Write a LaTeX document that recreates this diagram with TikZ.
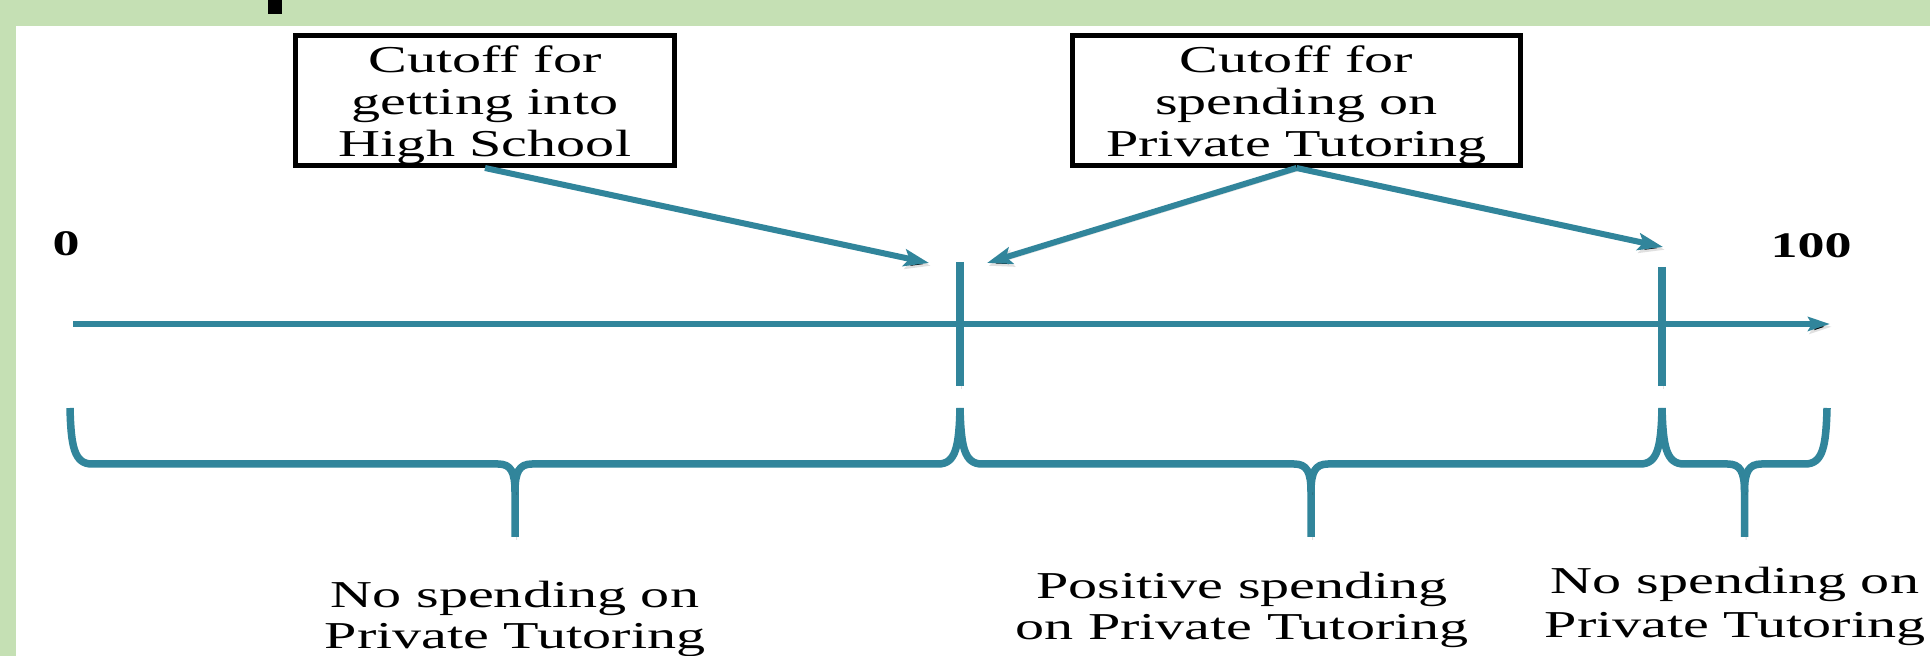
\documentclass[tikz,border=0pt]{standalone}
\usepackage{fontspec}
\setmainfont{Liberation Serif}
\newfontfamily\wideserif[FakeStretch=1.53]{Liberation Serif}
\newfontfamily\numserif[FakeStretch=1.5]{Liberation Serif}
\usetikzlibrary{arrows.meta}
\definecolor{teal1}{RGB}{49,133,155}
\definecolor{framegreen}{RGB}{197,224,180}
\begin{document}
\begin{tikzpicture}[x=0.5pt,y=-0.5pt,
  softshadow/.style={preaction={draw=black, draw opacity=0.12, transform canvas={shift={(0.8pt,-1.4pt)}}}},
  axisline/.style={draw=teal1, line width=3pt, softshadow, -{Stealth[length=11pt,width=7pt,inset=2pt]}},
  arrowline/.style={draw=teal1, line width=3pt, softshadow, -{Stealth[length=12.5pt,width=8.5pt,inset=2.5pt]}},
  tickline/.style={draw=teal1, line width=4.25pt, softshadow},
  braceline/.style={draw=teal1, line width=3.75pt, line join=round, softshadow},
  cutbox/.style={draw=black, line width=2.5pt, fill=white, inner sep=0pt, minimum height=65pt},
  boxtext/.style={font=\wideserif\fontsize{19pt}{21pt}\selectfont, align=center, inner sep=0pt},
  labeltext/.style={font=\wideserif\fontsize{19pt}{21pt}\selectfont, anchor=base, inner sep=0pt},
  numtext/.style={font=\numserif\bfseries\fontsize{18pt}{21pt}\selectfont, inner sep=0pt}
]
\useasboundingbox (0,0) rectangle (1930,656);
% frame
\fill[white] (0,0) rectangle (1930,656);
\fill[framegreen] (0,0) rectangle (1930,26);
\fill[framegreen] (0,0) rectangle (16,656);
\fill[black] (268,0) rectangle (282,14);

% boxes
\node[cutbox, minimum width=189.5pt] (box1) at (485,100.5) {};
\node[boxtext] (box1text) at (485,105) {Cutoff for\\getting into\\High School};
\node[cutbox, minimum width=224pt] (box2) at (1296.5,100.5) {};
\node[boxtext] (box2text) at (1296.5,105) {Cutoff for\\spending on\\Private Tutoring};

% numbers
\node[numtext] (n0) at (66,244) {0};
\node[numtext] (n100) at (1811,246) {100};

% axis
\coordinate (ax0) at (73,324);
\coordinate (ax1) at (1830,324);
\draw[axisline] (ax0) -- (ax1);

% ticks
\coordinate (t1top) at (960,262);
\coordinate (t1bot) at (960,386);
\coordinate (t2top) at (1662,267);
\coordinate (t2bot) at (1662,386);
\draw[tickline] (t1top) -- (t1bot);
\draw[tickline] (t2top) -- (t2bot);

% pointer arrows
\coordinate (tipA) at (929,263);
\coordinate (tipB) at (987,263);
\coordinate (tipC) at (1663,247);
\draw[arrowline] (box1.south) -- (tipA);
\draw[arrowline] (box2.south) -- (tipB);
\draw[arrowline] (box2.south) -- (tipC);

% brace 1: 70 .. 960, mid 515
\draw[braceline] (70,408) .. controls (71,446) and (74,464) .. (92,464) -- (498,464)
  .. controls (511,464) and (515,472) .. (515,492) -- (515,537);
\draw[braceline] (515,492) .. controls (515,472) and (519,464) .. (532,464) -- (938,464)
  .. controls (956,464) and (959,446) .. (960,408);
% brace 2: 960 .. 1662, mid 1311
\draw[braceline] (960,408) .. controls (961,446) and (964,464) .. (982,464) -- (1294,464)
  .. controls (1307,464) and (1311,472) .. (1311,492) -- (1311,537);
\draw[braceline] (1311,492) .. controls (1311,472) and (1315,464) .. (1328,464) -- (1640,464)
  .. controls (1658,464) and (1661,446) .. (1662,408);
% brace 3: 1662 .. 1827, mid 1744.5
\draw[braceline] (1662,408) .. controls (1663,446) and (1666,464) .. (1684,464) -- (1727.5,464)
  .. controls (1740.5,464) and (1744.5,472) .. (1744.5,492) -- (1744.5,537);
\draw[braceline] (1744.5,492) .. controls (1744.5,472) and (1748.5,464) .. (1761.5,464) -- (1805,464)
  .. controls (1823,464) and (1826,446) .. (1827,408);

% labels
\node[labeltext] (la1) at (515,607) {No spending on};
\node[labeltext] (la2) at (515,648) {Private Tutoring};
\node[labeltext] (lb1) at (1242,598) {Positive spending};
\node[labeltext] (lb2) at (1242,639) {on Private Tutoring};
\node[labeltext] (lc1) at (1735,593) {No spending on};
\node[labeltext] (lc2) at (1735,637) {Private Tutoring};
\end{tikzpicture}
\end{document}
